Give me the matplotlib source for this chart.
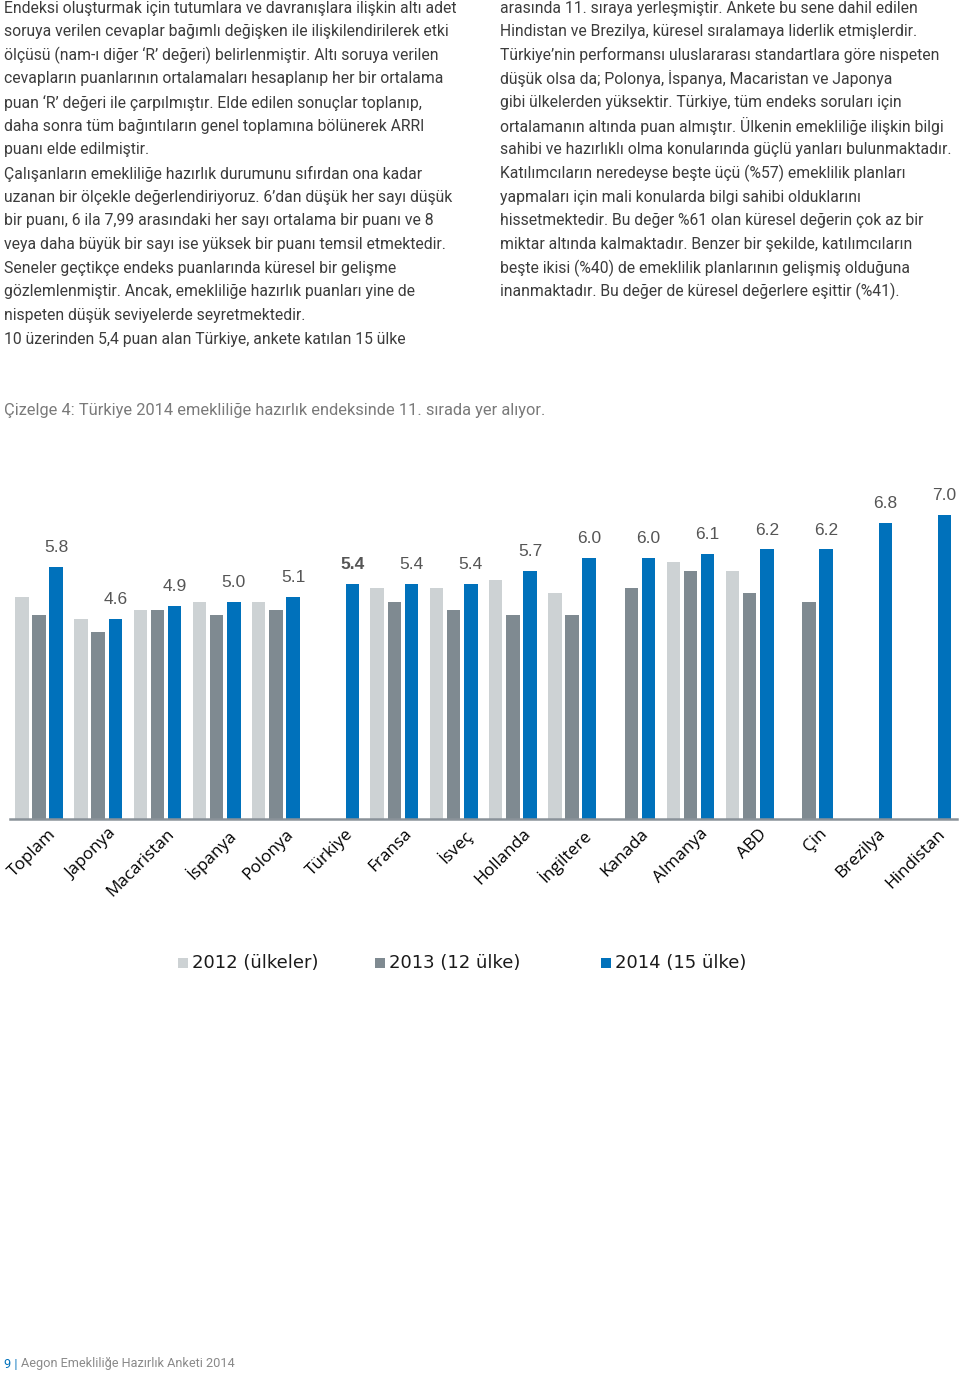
import numpy as np
import matplotlib
matplotlib.use("Agg")
import matplotlib.pyplot as plt
from matplotlib.patches import Rectangle

# Chart data
countries = ["Toplam", "Japonya", "Macaristan", "İspanya", "Polonya", "Türkiye",
             "Fransa", "İsveç", "Hollanda", "İngiltere", "Kanada", "Almanya",
             "ABD", "Çin", "Brezilya", "Hindistan"]
v2012 = [5.1, 4.6, 4.8, 5.0, 5.0, np.nan, 5.3, 5.3, 5.5, 5.2, np.nan, 5.9, 5.7, np.nan, np.nan, np.nan]
v2013 = [4.7, 4.3, 4.8, 4.7, 4.8, np.nan, 5.0, 4.8, 4.7, 4.7, 5.3, 5.7, 5.2, 5.0, np.nan, np.nan]
v2014 = [5.8, 4.6, 4.9, 5.0, 5.1, 5.4, 5.4, 5.4, 5.7, 6.0, 6.0, 6.1, 6.2, 6.2, 6.8, 7.0]
series_names = ["2012 (ülkeler)", "2013 (12 ülke)", "2014 (15 ülke)"]
highlight = "Türkiye"

left_lines = [
    "Endeksi oluşturmak için tutumlara ve davranışlara ilişkin altı adet",
    "soruya verilen cevaplar bağımlı değişken ile ilişkilendirilerek etki",
    "ölçüsü (nam-ı diğer ‘R’ değeri) belirlenmiştir. Altı soruya verilen",
    "cevapların puanlarının ortalamaları hesaplanıp her bir ortalama",
    "puan ‘R’ değeri ile çarpılmıştır. Elde edilen sonuçlar toplanıp,",
    "daha sonra tüm bağıntıların genel toplamına bölünerek ARRI",
    "puanı elde edilmiştir.",
    "Çalışanların emekliliğe hazırlık durumunu sıfırdan ona kadar",
    "uzanan bir ölçekle değerlendiriyoruz. 6’dan düşük her sayı düşük",
    "bir puanı, 6 ila 7,99 arasındaki her sayı ortalama bir puanı ve 8",
    "veya daha büyük bir sayı ise yüksek bir puanı temsil etmektedir.",
    "Seneler geçtikçe endeks puanlarında küresel bir gelişme",
    "gözlemlenmiştir. Ancak, emekliliğe hazırlık puanları yine de",
    "nispeten düşük seviyelerde seyretmektedir.",
    "10 üzerinden 5,4 puan alan Türkiye, ankete katılan 15 ülke",
]
right_lines = [
    "arasında 11. sıraya yerleşmiştir. Ankete bu sene dahil edilen",
    "Hindistan ve Brezilya, küresel sıralamaya liderlik etmişlerdir.",
    "Türkiye’nin performansı uluslararası standartlara göre nispeten",
    "düşük olsa da; Polonya, İspanya, Macaristan ve Japonya",
    "gibi ülkelerden yüksektir. Türkiye, tüm endeks soruları için",
    "ortalamanın altında puan almıştır. Ülkenin emekliliğe ilişkin bilgi",
    "sahibi ve hazırlıklı olma konularında güçlü yanları bulunmaktadır.",
    "Katılımcıların neredeyse beşte üçü (%57) emeklilik planları",
    "yapmaları için mali konularda bilgi sahibi olduklarını",
    "hissetmektedir. Bu değer %61 olan küresel değerin çok az bir",
    "miktar altında kalmaktadır. Benzer bir şekilde, katılımcıların",
    "beşte ikisi (%40) de emeklilik planlarının gelişmiş olduğuna",
    "inanmaktadır. Bu değer de küresel değerlere eşittir (%41).",
]
caption = "Çizelge 4: Türkiye 2014 emekliliğe hazırlık endeksinde 11. sırada yer alıyor."
footer = "Aegon Emekliliğe Hazırlık Anketi 2014"

colors = ["#cdd2d4", "#7f8a91", "#0071bb"]
W, H = 960, 1373

fig = plt.figure(figsize=(W / 100, H / 100), dpi=100)

def fy(px):
    return 1 - px / H

# body text
line_step = 23.65
for i, s in enumerate(left_lines):
    fig.text(4 / W, fy(8 + i * line_step), s, fontsize=11.3, family="Roboto",
             color="#3c3c3c", va="center", ha="left")
for i, s in enumerate(right_lines):
    fig.text(500 / W, fy(8 + i * line_step), s, fontsize=11.3, family="Roboto",
             color="#3c3c3c", va="center", ha="left")

fig.text(4 / W, fy(410), caption, fontsize=11.75, family="Roboto",
         color="#7a7a7a", va="center", ha="left")

# chart
ax = fig.add_axes([10 / W, fy(819), 947 / W, (819 - 471) / H])
x = np.arange(len(countries))
step, width = 0.29, 0.228
for k, (vals, c) in enumerate(zip([v2012, v2013, v2014], colors)):
    ax.bar(x + (k - 1) * step, vals, width=width, color=c, linewidth=0)

for i, v in enumerate(v2014):
    bold = countries[i] == highlight
    ax.text(x[i] + step, v + 0.27, f"{v:.1f}", ha="center", va="bottom",
            fontsize=12.5, family="Liberation Sans", color="#555555",
            fontweight="bold" if bold else "normal")

for i, name in enumerate(countries):
    ax.text(x[i] + 0.16, -0.16, name, rotation=45, rotation_mode="anchor",
            ha="right", va="top", fontsize=12.3, family="Open Sans",
            color="#000000")

ax.set_xlim(-0.49, 15.5)
ax.set_ylim(0, 8)
for s in ["top", "right", "left"]:
    ax.spines[s].set_visible(False)
ax.spines["bottom"].set_color("#8a9299")
ax.spines["bottom"].set_linewidth(1.8)
ax.set_xticks([])
ax.set_yticks([])
ax.patch.set_alpha(0)

# legend
leg_x = [178, 375, 601]
for lx, c, name in zip(leg_x, colors, series_names):
    fig.add_artist(Rectangle((lx / W, fy(968)), 10 / W, 10 / H,
                             transform=fig.transFigure, color=c, lw=0))
    fig.text((lx + 14) / W, fy(963.5), name, fontsize=13, family="DejaVu Sans",
             color="#1a1a1a", va="center", ha="left")

# footer
fig.text(4 / W, fy(1364), "9 |", fontsize=9.2, family="Roboto",
         color="#0071bb", va="center", ha="left")
fig.text(21 / W, fy(1364), footer, fontsize=9.2, family="Roboto",
         color="#8a8a8a", va="center", ha="left")

fig.savefig("out.png", dpi=100)
